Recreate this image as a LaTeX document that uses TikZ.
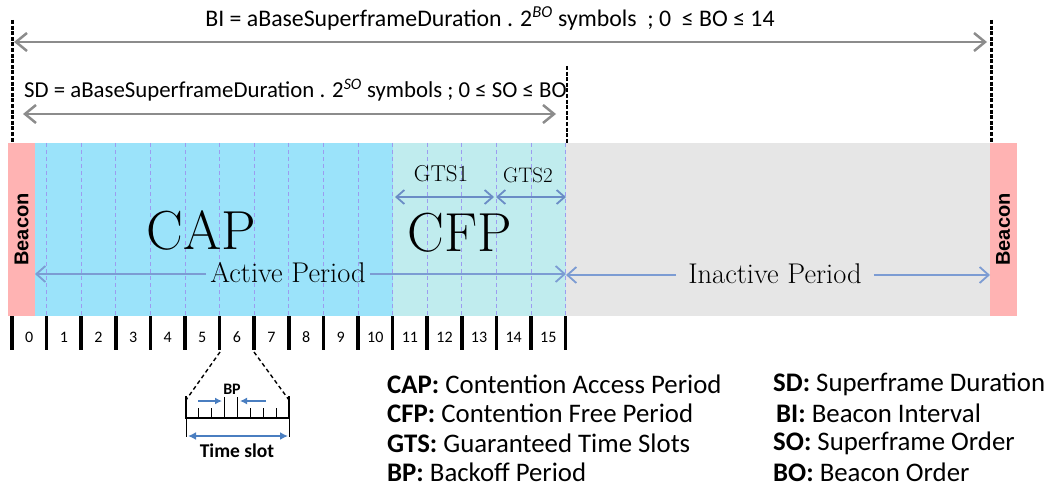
\documentclass[tikz,border=0pt]{standalone}
\usepackage{fontspec}
\usetikzlibrary{arrows.meta}
\newfontfamily\calib{Carlito}
\newfontfamily\arialf{Liberation Sans}

\definecolor{beaconpink}{HTML}{FFB3B3}
\definecolor{capblue}{HTML}{9BE3FA}
\definecolor{cfpcyan}{HTML}{C0ECEE}
\definecolor{inactgray}{HTML}{E6E6E6}
\definecolor{slotdash}{HTML}{9C9CF0}
\definecolor{periodblue}{HTML}{7C9CD3}
\definecolor{gtsblue}{HTML}{6A8CC6}
\definecolor{bpblue}{HTML}{4A7EC0}
\definecolor{arrowgray}{HTML}{8C8C8C}

\tikzset{
  boundline/.style={line width=2.2pt, dash pattern=on 4pt off 1.6pt},
  grayarrow/.style={draw=arrowgray, line width=2.5pt,
    {Straight Barb[length=11pt,width=18pt]}-{Straight Barb[length=11pt,width=18pt]}},
  slotline/.style={draw=slotdash, line width=0.8pt, dash pattern=on 4pt off 3pt},
  tickbar/.style={line width=3.6pt},
  periodarrow/.style={draw=periodblue, line width=1.8pt, -{Straight Barb[length=9pt,width=16pt]}},
  gtsarrow/.style={draw=gtsblue, line width=1.8pt,
    {Straight Barb[length=8pt,width=14pt]}-{Straight Barb[length=8pt,width=14pt]}},
  beaconbox/.style={fill=beaconpink, rotate=90, minimum width=173pt, minimum height=27pt,
    inner sep=0pt, font=\arialf\bfseries\fontsize{20}{20}\selectfont},
  slotnum/.style={font=\calib\fontsize{16}{16}\selectfont},
  topformula/.style={font=\calib\fontsize{23.8}{23.8}\selectfont, inner sep=0pt},
  bigword/.style={font=\fontsize{55}{55}\selectfont, inner sep=0pt},
  periodlabel/.style={font=\fontsize{28.5}{28.5}\selectfont, inner xsep=4pt},
  gtslabel/.style={font=\fontsize{23}{23}\selectfont, inner sep=0pt},
  legend/.style={font=\calib\fontsize{26.8}{26.8}\selectfont, anchor=west, inner sep=0pt},
  bparrow/.style={draw=bpblue, line width=1.8pt, -{Latex[length=7pt,width=7pt]}}
}

\begin{document}
\begin{tikzpicture}[x=1pt, y=-1pt]
  \useasboundingbox (0,0) rectangle (1051,489);

  % superframe strip
  \fill[capblue] (35,143) rectangle (393,316);
  \fill[cfpcyan] (393,143) rectangle (566,316);
  \fill[inactgray] (566,143) rectangle (990,316);
  \node[beaconbox] (bcn1) at (21.5,229.5) {Beacon};
  \node[beaconbox] (bcn2) at (1003,229.5) {Beacon};

  % slot borders and ticks
  \foreach \i in {1,...,16}
    \draw[slotline] ({12+34.6*\i},143) -- ({12+34.6*\i},316);
  \foreach \i in {0,...,16}
    \draw[tickbar] ({12+34.6*\i},316) -- ++(0,34);
  \foreach \i in {0,...,15}
    \node[slotnum] (n\i) at ({29.3+34.6*\i},337) {\i};

  % BI and SD
  \coordinate (bi-lt) at (12.5,20);
  \coordinate (bi-lb) at (12.5,143);
  \coordinate (bi-rt) at (991.5,20);
  \coordinate (bi-rb) at (991.5,143);
  \coordinate (sd-rt) at (567,66);
  \coordinate (sd-rb) at (567,143);
  \draw[boundline] (bi-lt) -- (bi-lb);
  \draw[boundline] (bi-rt) -- (bi-rb);
  \draw[boundline] (sd-rt) -- (sd-rb);

  \coordinate (bi-l) at (14,42);
  \coordinate (bi-r) at (987,42);
  \draw[grayarrow] (bi-l) -- (bi-r);
  \node[topformula] (bi) at (490,19)
    {BI = aBaseSuperframeDuration . 2\textsuperscript{\itshape BO} symbols\ \ ; 0\ \ ≤ BO ≤ 14};

  \coordinate (sd-l) at (23,114);
  \coordinate (sd-r) at (556,114);
  \draw[grayarrow] (sd-l) -- (sd-r);
  \node[topformula, font=\calib\fontsize{22.8}{22.8}\selectfont, anchor=west] (sd) at (24,90)
    {SD = aBaseSuperframeDuration . 2\textsuperscript{\itshape SO} symbols ; 0 ≤ SO ≤ BO};

  % CAP / CFP
  \node[bigword] (cap) at (201,230) {CAP};
  \node[bigword] (cfp) at (460,233) {CFP};

  % GTS
  \coordinate (g1-l) at (395,197);
  \coordinate (g1-r) at (494,197);
  \coordinate (g2-l) at (496,197);
  \coordinate (g2-r) at (566,197);
  \draw[gtsarrow] (g1-l) -- (g1-r);
  \draw[gtsarrow] (g2-l) -- (g2-r);
  \node[gtslabel] (gts1) at (441,174) {GTS1};
  \node[gtslabel, font=\fontsize{21}{21}\selectfont] (gts2) at (528,175) {GTS2};

  % active / inactive period
  \node[periodlabel] (act) at (288,273) {Active Period};
  \coordinate (act-l) at (35,274);
  \coordinate (act-r) at (566,274);
  \draw[periodarrow] (act.west |- act-l) -- (act-l);
  \draw[periodarrow] (act.east |- act-r) -- (act-r);

  \node[periodlabel, inner xsep=12pt] (inact) at (775,274) {Inactive Period};
  \coordinate (ina-l) at (566,275);
  \coordinate (ina-r) at (990,275);
  \draw[periodarrow] (inact.west |- ina-l) -- (ina-l);
  \draw[periodarrow] (inact.east |- ina-r) -- (ina-r);

  % time slot detail
  \coordinate (z-l) at (220,352);
  \coordinate (z-r) at (254,352);
  \coordinate (ts-l) at (186,396);
  \coordinate (ts-r) at (289,396);
  \draw[line width=1.4pt, dash pattern=on 4pt off 3pt] (z-l) -- ([yshift=-4pt]ts-l);
  \draw[line width=1.4pt, dash pattern=on 4pt off 3pt] (z-r) -- ([yshift=-4pt]ts-r);
  \draw[line width=1.6pt] (ts-l) -- (186,418) -- (289,418) -- (ts-r);
  \draw[line width=0.5pt] (186,418) -- (186,437);
  \draw[line width=0.5pt] (289,418) -- (289,437);
  \foreach \k in {1,2,5,6,7}
    \draw[line width=0.9pt] ({186+12.875*\k},408) -- ({186+12.875*\k},418);
  \foreach \k in {3,4}
    \draw[line width=0.9pt] ({186+12.875*\k},397) -- ({186+12.875*\k},418);
  \node[font=\calib\bfseries\fontsize{16}{16}\selectfont, inner sep=0pt] (bp) at (232,389) {BP};
  \coordinate (bp-l) at (198,401);
  \coordinate (bp-r) at (266,401);
  \draw[bparrow] (bp-l) -- (222,401);
  \draw[bparrow] (bp-r) -- (240,401);
  \coordinate (slot-l) at (188,436);
  \coordinate (slot-r) at (288,436);
  \draw[draw=bpblue, line width=2.2pt, {Latex[length=8pt,width=8pt]}-{Latex[length=8pt,width=8pt]}] (slot-l) -- (slot-r);
  \node[font=\calib\bfseries\fontsize{19.5}{19.5}\selectfont, inner sep=0pt] (tslot) at (237,451) {Time slot};

  % legend
  \node[legend] (lg1) at (387,384) {\textbf{CAP:} Contention Access Period};
  \node[legend] (lg2) at (387,413) {\textbf{CFP:} Contention Free Period};
  \node[legend] (lg3) at (387,443) {\textbf{GTS:} Guaranteed Time Slots};
  \node[legend] (lg4) at (387,472) {\textbf{BP:} Backoff Period};
  \node[legend] (lg5) at (773,384) {\textbf{SD:} Superframe Duration};
  \node[legend] (lg6) at (776,413) {\textbf{BI:} Beacon Interval};
  \node[legend] (lg7) at (773,443) {\textbf{SO:} Superframe Order};
  \node[legend] (lg8) at (773,472) {\textbf{BO:} Beacon Order};
\end{tikzpicture}
\end{document}
